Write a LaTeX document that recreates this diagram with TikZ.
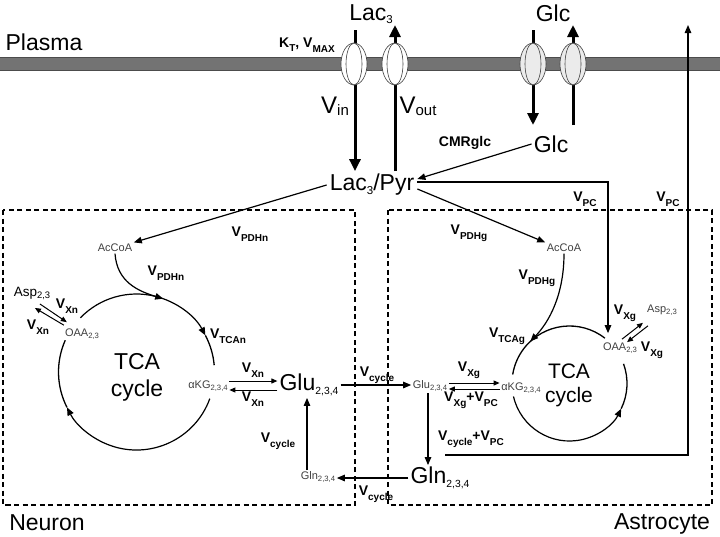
\documentclass[tikz,border=0pt]{standalone}
\usepackage{fontspec}
\setmainfont{Liberation Sans}
\usepackage{graphicx}
\usetikzlibrary{arrows.meta}

\newcommand{\pxfont}[1]{\fontsize{#1}{#1}\selectfont}
\newcommand{\sub}[2][0.7]{\raisebox{-0.15em}{\scalebox{#1}{#2}}}
\newcommand{\flux}[1]{V\raisebox{-5.5pt}{\pxfont{10}#1}}

\begin{document}
\begin{tikzpicture}[x=1pt, y=-1pt,
  metab/.style={inner sep=1.5pt, text=black!75, font=\pxfont{11}},
  bigname/.style={inner sep=2pt, font=\pxfont{23}},
  ratelabel/.style={inner sep=1pt, font=\pxfont{14}\bfseries},
  flow/.style={-{Triangle[length=8pt,width=6.5pt]}, line width=1.2pt},
  twoway/.style={-{Triangle[length=6pt,width=5pt]}, line width=1pt},
  bigflow/.style={-{Triangle[length=12pt,width=11pt]}, line width=3pt},
  cycleline/.style={line width=1.3pt},
  cellbox/.style={dash pattern=on 5pt off 3.5pt, line width=1.1pt}]

  \fill[white] (0,0) rectangle (720,536);
  \useasboundingbox (0,0) rectangle (720,536);

  % membrane
  \fill[black!55] (0,57) rectangle (720,70);
  \draw[black!70, line width=0.8pt] (0,57) -- (720,57) (0,70) -- (720,70);

  \draw[cellbox] (3,210) rectangle (355,505);
  \draw[cellbox] (388,210) rectangle (712,505);

  \node[bigname] (plasma) at (44,42) {Plasma};
  \node[bigname] (lactop) at (371,14) {Lac\sub[0.5]{3}};
  \node[bigname] (glctop) at (553,13) {Glc};
  \node[bigname] (glc) at (551,144) {Glc};
  \node[bigname, inner sep=3pt] (lacpyr) at (372,185) {Lac\sub[0.5]{3}/Pyr};
  \node[bigname] (neuron) at (47,523) {Neuron};
  \node[bigname] (astro) at (662,524) {Astrocyte};

  \node[ratelabel] (kt) at (307,45) {K\raisebox{-4pt}{\pxfont{10}T}, \flux{MAX}};
  \node[inner sep=1pt, font=\pxfont{24}] (vin) at (335,106) {V\raisebox{-2pt}{\pxfont{15}in}};
  \node[inner sep=1pt, font=\pxfont{24}] (vout) at (418,106) {V\raisebox{-2pt}{\pxfont{15}out}};
  \node[ratelabel] (cmr) at (465,143) {CMRglc};

  % transporters
  \coordinate (lacin) at (355,30);
  \coordinate (lacout) at (395,25);
  \coordinate (glcin) at (533,30);
  \coordinate (glcout) at (573,25);
  \draw[bigflow] (lacin) -- (lacin |- lacpyr.north);
  \draw[bigflow] (lacout |- lacpyr.north) -- (lacout);
  \draw[bigflow] (glcin) -- ++(0,95);
  \draw[bigflow] ([yshift=-100pt]glcout) -- (glcout);
  \foreach \cx/\shade in {354/white, 395/white, 533/black!8, 573/black!8}{
    \filldraw[fill=\shade, draw=black!75, line width=0.6pt] (\cx,64) ellipse [x radius=13pt, y radius=21pt];
    \draw[black!75, line width=0.6pt] (\cx,64) ellipse [x radius=8pt, y radius=21pt];
  }

  % metabolites
  \node[metab] (acn) at (115,248) {AcCoA};
  \node[metab] (acg) at (564,248) {AcCoA};
  \node[metab, text=black, font=\pxfont{13.5}] (aspn) at (32,293) {Asp\sub{2,3}};
  \node[metab] (oaan) at (82,334) {OAA\sub{2,3}};
  \node[metab] (akgn) at (208,386) {αKG\sub{2,3,4}};
  \node[bigname] (glun) at (309,385) {Glu\sub[0.45]{2,3,4}};
  \node[metab] (glnn) at (318,477) {Gln\sub{2,3,4}};
  \node[metab] (glug) at (430,386) {Glu\sub{2,3,4}};
  \node[metab] (akgg) at (521,388) {αKG\sub{2,3,4}};
  \node[metab] (oaag) at (620,348) {OAA\sub{2,3}};
  \node[metab] (aspg) at (662,310) {Asp\sub{2,3}};
  \node[bigname] (glng) at (440,478) {Gln\sub[0.45]{2,3,4}};

  \node[font=\fontsize{23}{27}\selectfont, align=center] (tcan) at (137,377) {TCA\\cycle};
  \node[font=\fontsize{21}{24}\selectfont, align=center] (tcag) at (569,385) {TCA\\cycle};

  % rates
  \node[ratelabel] (vpdhn1) at (250,234) {\flux{PDHn}};
  \node[ratelabel] (vpdhn2) at (166,273) {\flux{PDHn}};
  \node[ratelabel] (vtcan) at (228,336) {\flux{TCAn}};
  \node[ratelabel] (vxn1) at (67,306) {\flux{Xn}};
  \node[ratelabel] (vxn2) at (38,327) {\flux{Xn}};
  \node[ratelabel] (vxn3) at (253,370) {\flux{Xn}};
  \node[ratelabel] (vxn4) at (253,399) {\flux{Xn}};
  \node[ratelabel] (vcycn) at (278,441) {\flux{cycle}};
  \node[ratelabel] (vcyc1) at (377,375) {\flux{cycle}};
  \node[ratelabel] (vcyc2) at (376,494) {\flux{cycle}};
  \node[ratelabel] (vpdhg1) at (469,233) {\flux{PDHg}};
  \node[ratelabel] (vpdhg2) at (537,278) {\flux{PDHg}};
  \node[ratelabel] (vtcag) at (507,336) {\flux{TCAg}};
  \node[ratelabel] (vxg1) at (625,313) {\flux{Xg}};
  \node[ratelabel] (vxg2) at (652,350) {\flux{Xg}};
  \node[ratelabel] (vxg3) at (469,370) {\flux{Xg}};
  \node[ratelabel] (vxgpc) at (471,400) {\flux{Xg}+\flux{PC}};
  \node[ratelabel] (vcycpc) at (471,439) {\flux{cycle}+\flux{PC}};
  \node[ratelabel] (vpc1) at (585,199) {\flux{PC}};
  \node[ratelabel] (vpc2) at (668,199) {\flux{PC}};

  % TCA cycles
  \coordinate (cn) at (136.5,372);
  \coordinate (cg) at (569.5,383.5);
  \draw[cycleline, flow] ([shift={(136:78pt)}]cn) arc[start angle=136, end angle=28, radius=78pt];
  \draw[cycleline] ([shift={(28:78pt)}]cn) arc[start angle=28, end angle=5, radius=78pt];
  \draw[cycleline, flow] ([shift={(-20:78pt)}]cn) arc[start angle=-20, end angle=-153, radius=78pt];
  \draw[cycleline] ([shift={(-153:78pt)}]cn) arc[start angle=-153, end angle=-204, radius=78pt];
  \draw[cycleline, flow] ([shift={(193:57.5pt)}]cg) arc[start angle=193, end angle=334, radius=57.5pt];
  \draw[cycleline] ([shift={(334:57.5pt)}]cg) arc[start angle=334, end angle=380, radius=57.5pt];
  \draw[cycleline] ([shift={(52:57.5pt)}]cg) arc[start angle=52, end angle=171, radius=57.5pt];

  % fluxes
  \draw[flow] (glc.west) -- ([yshift=6pt]lacpyr.east);
  \draw[flow] (lacpyr.west) -- (acn.north east);
  \draw[flow] ([yshift=-4pt]lacpyr.east) -- (acg.north west);
  \draw[flow] ([yshift=3pt]lacpyr.east) -| ([xshift=-12pt,yshift=8pt]oaag.north);
  \coordinate (pcstart) at (445,455);
  \coordinate (pcend) at (688,25);
  \draw[flow] (pcstart) -| (pcend);
  \draw[flow] (acn.south) .. controls (117,282) and (138,291) .. ([shift={(70:78pt)}]cn);
  \draw[flow] (acg.south) .. controls (564,295) and (549,322) .. ([shift={(133:57.5pt)}]cg);

  \draw[twoway] ([shift={(0.5pt,2pt)}]oaan.north west) -- ([shift={(-17pt,-7pt)}]aspn.south east);
  \draw[twoway] ([shift={(-12pt,-3pt)}]aspn.south east) -- ([shift={(3.5pt,5pt)}]oaan.north west);
  \draw[twoway] ([shift={(2pt,2pt)}]oaag.north) -- ([shift={(-2.5pt,-6pt)}]aspg.south west);
  \draw[twoway] ([shift={(2.5pt,-9pt)}]aspg.south west) -- ([shift={(7pt,-1pt)}]oaag.north);

  \draw[twoway] ([yshift=5pt]akgn.east) -- ([yshift=5pt]akgn.east -| glun.west);
  \draw[twoway] ([yshift=-4pt]akgn.east -| glun.west) -- ([yshift=-4pt]akgn.east);
  \draw[twoway] ([yshift=3pt]glug.east) -- ([yshift=3pt]glug.east -| akgg.west);
  \draw[twoway] ([yshift=-3pt]glug.east -| akgg.west) -- ([yshift=-3pt]glug.east);

  \draw[flow] (glun.east) -- (glun.east -| glug.west);
  \draw[flow] ([xshift=-2pt]glug.south) -- ([xshift=-2pt]glug.south |- glng.north);
  \draw[flow] (glng.west) -- (glng.west -| glnn.east);
  \draw[flow] ([xshift=-2pt]glun.south |- glnn.north) -- ([xshift=-2pt]glun.south);
\end{tikzpicture}
\end{document}
